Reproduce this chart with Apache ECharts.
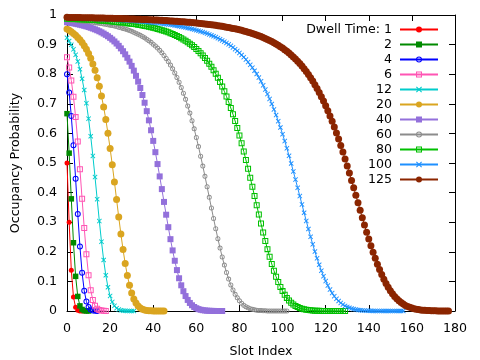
<!DOCTYPE html>
<html>
<head>
<meta charset="utf-8">
<script src="https://cdn.jsdelivr.net/npm/echarts/dist/echarts.min.js"></script>
<style>html,body{margin:0;padding:0;background:#fff}#c{width:480px;height:360px}</style>
</head>
<body>
<div id="c"></div>
<script>
// Dwell times (legend labels)
const dwellTimes = [1, 2, 4, 6, 12, 20, 40, 60, 80, 100, 125];

// Occupancy probability per slot index (index in array = slot index)
const occ1 = [0.5, 0.3, 0.1375, 0.0471, 0.0123, 0.0026, 0.0004, 0.0001, 0];
const occ2 = [0.6667, 0.5333, 0.3789, 0.2306, 0.1171, 0.0492, 0.0173, 0.0052, 0.0013, 0.0003, 0.0001];
const occ4 = [0.8, 0.7385, 0.6587, 0.5601, 0.4465, 0.3276, 0.2177, 0.1293, 0.0683, 0.0321, 0.0135, 0.0051, 0.0018, 0.0006, 0.0002];
const occ6 = [0.8571, 0.8229, 0.779, 0.7236, 0.655, 0.5729, 0.4792, 0.3791, 0.2804, 0.192, 0.1209, 0.0698, 0.0369, 0.0179, 0.008, 0.0033, 0.0013, 0.0005, 0.0002];
const occ12 = [0.9231, 0.9122, 0.8993, 0.8839, 0.8653, 0.8431, 0.8167, 0.7846, 0.7467, 0.702, 0.6499, 0.5904, 0.524, 0.4523, 0.3778, 0.3038, 0.2342, 0.1723, 0.1207, 0.0803, 0.0508, 0.0305, 0.0174, 0.0095, 0.0049, 0.0024, 0.0012, 0.0005, 0.0002, 0.0001, 0, 0];
const occ20 = [0.9524, 0.9481, 0.943, 0.9378, 0.9315, 0.9244, 0.9163, 0.907, 0.8963, 0.884, 0.8699, 0.8536, 0.8348, 0.813, 0.788, 0.7593, 0.7264, 0.6891, 0.6471, 0.6003, 0.5491, 0.494, 0.4361, 0.3767, 0.3175, 0.2605, 0.2076, 0.1604, 0.12, 0.0867, 0.0606, 0.0409, 0.0267, 0.0169, 0.0103, 0.0061, 0.0035, 0.002, 0.0011, 0.0006, 0.0003, 0.0001, 0.0001, 0, 0, 0];
const occ40 = [0.9756, 0.9745, 0.9732, 0.9719, 0.9705, 0.9689, 0.9673, 0.9655, 0.9636, 0.9616, 0.9593, 0.9569, 0.9543, 0.9515, 0.9484, 0.945, 0.9414, 0.9373, 0.933, 0.9282, 0.9229, 0.9171, 0.9107, 0.9036, 0.8958, 0.8872, 0.8777, 0.8671, 0.8554, 0.8425, 0.8281, 0.8121, 0.7945, 0.775, 0.7534, 0.7296, 0.7036, 0.6751, 0.6441, 0.6106, 0.5747, 0.5366, 0.4964, 0.4547, 0.4118, 0.3685, 0.3253, 0.2832, 0.2427, 0.2047, 0.1697, 0.1382, 0.1106, 0.0868, 0.0669, 0.0505, 0.0374, 0.0272, 0.0194, 0.0136, 0.0094, 0.0063, 0.0042, 0.0027, 0.0018, 0.0011, 0.0007, 0.0004, 0.0003, 0.0001, 0.0001, 0, 0];
const occ60 = [0.9836, 0.9831, 0.9825, 0.9819, 0.9813, 0.9807, 0.98, 0.9793, 0.9786, 0.9778, 0.977, 0.9761, 0.9752, 0.9742, 0.9732, 0.9721, 0.971, 0.9698, 0.9685, 0.9671, 0.9657, 0.9642, 0.9625, 0.9608, 0.9589, 0.9569, 0.9548, 0.9526, 0.9501, 0.9475, 0.9447, 0.9417, 0.9385, 0.9351, 0.9313, 0.9273, 0.9229, 0.9182, 0.9131, 0.9076, 0.9016, 0.8952, 0.8881, 0.8805, 0.8721, 0.8631, 0.8532, 0.8425, 0.8308, 0.818, 0.8042, 0.7891, 0.7728, 0.755, 0.7358, 0.715, 0.6926, 0.6685, 0.6428, 0.6153, 0.5861, 0.5554, 0.5231, 0.4896, 0.455, 0.4198, 0.3839, 0.348, 0.3125, 0.2779, 0.2444, 0.2126, 0.1827, 0.1552, 0.1301, 0.1078, 0.0881, 0.071, 0.0565, 0.0444, 0.0344, 0.0263, 0.0198, 0.0147, 0.0108, 0.0078, 0.0056, 0.004, 0.0028, 0.0019, 0.0013, 0.0009, 0.0006, 0.0004, 0.0002, 0.0002, 0.0001, 0.0001, 0, 0, 0, 0, 0];
const occ80 = [0.9877, 0.9874, 0.987, 0.9867, 0.9864, 0.986, 0.9857, 0.9853, 0.9849, 0.9845, 0.9841, 0.9836, 0.9832, 0.9827, 0.9822, 0.9817, 0.9812, 0.9806, 0.98, 0.9794, 0.9788, 0.9781, 0.9774, 0.9767, 0.9759, 0.9752, 0.9743, 0.9734, 0.9725, 0.9716, 0.9705, 0.9695, 0.9684, 0.9672, 0.9659, 0.9646, 0.9632, 0.9618, 0.9602, 0.9586, 0.9569, 0.955, 0.9531, 0.951, 0.9488, 0.9465, 0.944, 0.9414, 0.9386, 0.9356, 0.9324, 0.929, 0.9254, 0.9215, 0.9173, 0.9129, 0.9081, 0.903, 0.8975, 0.8916, 0.8852, 0.8784, 0.8711, 0.8631, 0.8546, 0.8455, 0.8356, 0.825, 0.8136, 0.8012, 0.788, 0.7738, 0.7585, 0.7421, 0.7246, 0.7058, 0.6858, 0.6645, 0.6419, 0.6181, 0.5929, 0.5665, 0.539, 0.5103, 0.4808, 0.4505, 0.4196, 0.3884, 0.3571, 0.3259, 0.2953, 0.2654, 0.2365, 0.209, 0.183, 0.1587, 0.1363, 0.116, 0.0977, 0.0814, 0.0672, 0.0549, 0.0443, 0.0355, 0.0281, 0.022, 0.017, 0.0131, 0.0099, 0.0075, 0.0056, 0.0041, 0.003, 0.0022, 0.0015, 0.0011, 0.0008, 0.0005, 0.0004, 0.0003, 0.0002, 0.0001, 0.0001, 0.0001, 0, 0, 0, 0, 0, 0];
const occ100 = [0.9901, 0.9899, 0.9897, 0.9895, 0.9893, 0.9891, 0.9888, 0.9886, 0.9884, 0.9881, 0.9879, 0.9876, 0.9873, 0.9871, 0.9868, 0.9865, 0.9862, 0.9859, 0.9855, 0.9852, 0.9848, 0.9845, 0.9841, 0.9837, 0.9833, 0.9829, 0.9825, 0.982, 0.9815, 0.981, 0.9805, 0.98, 0.9795, 0.9789, 0.9783, 0.9777, 0.9771, 0.9764, 0.9757, 0.975, 0.9742, 0.9735, 0.9726, 0.9718, 0.9709, 0.97, 0.969, 0.968, 0.9669, 0.9658, 0.9646, 0.9633, 0.962, 0.9607, 0.9592, 0.9577, 0.9561, 0.9545, 0.9527, 0.9508, 0.9489, 0.9468, 0.9446, 0.9423, 0.9399, 0.9373, 0.9345, 0.9316, 0.9285, 0.9253, 0.9218, 0.9181, 0.9142, 0.91, 0.9055, 0.9008, 0.8957, 0.8904, 0.8846, 0.8785, 0.8719, 0.8649, 0.8575, 0.8495, 0.841, 0.8318, 0.8221, 0.8117, 0.8006, 0.7887, 0.776, 0.7625, 0.7482, 0.7329, 0.7166, 0.6993, 0.6811, 0.6618, 0.6414, 0.62, 0.5975, 0.5741, 0.5497, 0.5244, 0.4983, 0.4714, 0.444, 0.4162, 0.3881, 0.3599, 0.3319, 0.3042, 0.277, 0.2506, 0.2251, 0.2008, 0.1778, 0.1562, 0.1361, 0.1177, 0.101, 0.0859, 0.0724, 0.0606, 0.0502, 0.0413, 0.0337, 0.0272, 0.0218, 0.0173, 0.0137, 0.0107, 0.0083, 0.0064, 0.0048, 0.0037, 0.0027, 0.002, 0.0015, 0.0011, 0.0008, 0.0006, 0.0004, 0.0003, 0.0002, 0.0001, 0.0001, 0.0001, 0, 0, 0, 0, 0, 0, 0, 0, 0];
const occ125 = [0.9921, 0.9919, 0.9918, 0.9917, 0.9915, 0.9914, 0.9913, 0.9911, 0.991, 0.9908, 0.9907, 0.9905, 0.9903, 0.9902, 0.99, 0.9898, 0.9897, 0.9895, 0.9893, 0.9891, 0.9889, 0.9887, 0.9885, 0.9883, 0.988, 0.9878, 0.9876, 0.9873, 0.9871, 0.9868, 0.9865, 0.9863, 0.986, 0.9857, 0.9854, 0.9851, 0.9848, 0.9845, 0.9841, 0.9838, 0.9834, 0.983, 0.9827, 0.9823, 0.9819, 0.9814, 0.981, 0.9806, 0.9801, 0.9796, 0.9791, 0.9786, 0.9781, 0.9775, 0.9769, 0.9763, 0.9757, 0.9751, 0.9744, 0.9737, 0.973, 0.9722, 0.9714, 0.9706, 0.9698, 0.9689, 0.968, 0.967, 0.966, 0.965, 0.9639, 0.9628, 0.9616, 0.9603, 0.959, 0.9577, 0.9563, 0.9548, 0.9532, 0.9516, 0.9499, 0.9481, 0.9462, 0.9442, 0.9421, 0.9399, 0.9376, 0.9352, 0.9326, 0.9299, 0.9271, 0.9241, 0.9209, 0.9176, 0.914, 0.9103, 0.9063, 0.9022, 0.8977, 0.893, 0.8881, 0.8828, 0.8772, 0.8713, 0.865, 0.8583, 0.8513, 0.8438, 0.8358, 0.8273, 0.8184, 0.8088, 0.7987, 0.788, 0.7767, 0.7646, 0.7519, 0.7384, 0.7242, 0.7092, 0.6934, 0.6767, 0.6592, 0.6409, 0.6217, 0.6017, 0.5809, 0.5592, 0.5368, 0.5138, 0.4901, 0.4658, 0.4411, 0.4161, 0.3909, 0.3655, 0.3403, 0.3152, 0.2906, 0.2664, 0.2429, 0.2202, 0.1985, 0.1778, 0.1583, 0.1401, 0.1231, 0.1075, 0.0932, 0.0803, 0.0687, 0.0583, 0.0492, 0.0412, 0.0343, 0.0283, 0.0233, 0.0189, 0.0153, 0.0123, 0.0098, 0.0078, 0.0061, 0.0048, 0.0037, 0.0029, 0.0022, 0.0017, 0.0013, 0.001, 0.0007, 0.0005, 0.0004, 0.0003, 0.0002, 0.0002, 0.0001, 0.0001];

const allSeries = [occ1, occ2, occ4, occ6, occ12, occ20, occ40, occ60, occ80, occ100, occ125];

// Marker shapes and styles (kept separate from data)
const CROSS = 'path://M0,1.3L1.3,0L5,3.7L8.7,0L10,1.3L6.3,5L10,8.7L8.7,10L5,6.3L1.3,10L0,8.7L3.7,5Z';
const RING = 'path://M0,5A5,5,0,1,1,10,5A5,5,0,1,1,0,5ZM1.7,5A3.3,3.3,0,1,0,8.3,5A3.3,3.3,0,1,0,1.7,5Z';
const BOX = 'path://M0,0L10,0L10,10L0,10ZM1.7,1.7L1.7,8.3L8.3,8.3L8.3,1.7Z';
const styles = [
  { color: '#ff0000', symbol: 'circle', size: 5 },
  { color: '#008a00', symbol: 'rect', size: 5.5 },
  { color: '#0000ff', symbol: RING, size: 6 },
  { color: '#ff55b4', symbol: BOX, size: 6 },
  { color: '#00cccc', symbol: CROSS, size: 5 },
  { color: '#daa520', symbol: 'circle', size: 7 },
  { color: '#9370db', symbol: 'rect', size: 6 },
  { color: '#8c8c8c', symbol: RING, size: 5 },
  { color: '#00c000', symbol: BOX, size: 6 },
  { color: '#1e90ff', symbol: CROSS, size: 5 },
  { color: '#8b2500', symbol: 'circle', size: 7 }
];

const names = dwellTimes.map((d, i) => (i === 0 ? 'Dwell Time: ' + d : String(d)));
const FONT = 'DejaVu Sans';
const FS = 12.6;

const series = allSeries.map((arr, i) => {
  const st = styles[i];
  return {
    type: 'line',
    name: names[i],
    data: arr.map((v, k) => [k, v]),
    symbol: st.symbol,
    symbolSize: st.size,
    showSymbol: true,
    clip: false,
    animation: false,
    lineStyle: { color: st.color, width: 1 },
    itemStyle: { color: st.color, borderWidth: 0 },
    emphasis: { disabled: true }
  };
});

const chart = echarts.init(document.getElementById('c'), null, { renderer: 'canvas' });
const axisCommon = {
  type: 'value',
  axisLine: { show: true, onZero: false, lineStyle: { color: '#000', width: 1 } },
  axisTick: { show: true, inside: true, length: 6, lineStyle: { color: '#000', width: 1 } },
  splitLine: { show: false }
};
chart.setOption({
  animation: false,
  backgroundColor: '#fff',
  textStyle: { fontFamily: FONT },
  grid: { left: 67, right: 25, top: 15, bottom: 49, containLabel: false, outerBoundsMode: 'none' },
  xAxis: [
    Object.assign({}, axisCommon, {
      position: 'bottom', min: 0, max: 180, interval: 20,
      name: 'Slot Index', nameLocation: 'middle', nameGap: 34,
      nameTextStyle: { color: '#000', fontSize: FS, fontFamily: FONT },
      axisLabel: { color: '#000', fontSize: FS, fontFamily: FONT, margin: 11 }
    }),
    Object.assign({}, axisCommon, {
      position: 'top', min: 0, max: 180, interval: 20,
      axisLabel: { show: false }
    })
  ],
  yAxis: [
    Object.assign({}, axisCommon, {
      position: 'left', min: 0, max: 1, interval: 0.1,
      name: 'Occupancy Probability', nameLocation: 'middle', nameGap: 45, nameRotate: 90,
      nameTextStyle: { color: '#000', fontSize: FS, fontFamily: FONT },
      axisLabel: { color: '#000', fontSize: FS, fontFamily: FONT, margin: 10 }
    }),
    Object.assign({}, axisCommon, {
      position: 'right', min: 0, max: 1, interval: 0.1,
      axisLabel: { show: false }
    })
  ],
  legend: {
    orient: 'vertical', right: 41, top: 22, align: 'right',
    itemWidth: 38, itemHeight: 7.5, itemGap: 0, padding: 0,
    selectedMode: false,
    textStyle: { color: '#000', fontSize: FS, fontFamily: FONT, lineHeight: 15, padding: [0, 3, 0, 0] },
    data: names
  },
  series: series
});
</script>
</body>
</html>
